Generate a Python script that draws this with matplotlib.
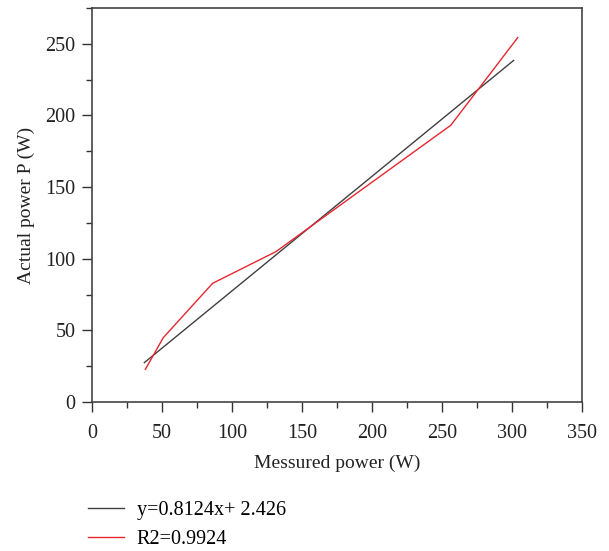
import matplotlib.pyplot as plt
from matplotlib.ticker import MultipleLocator

plt.rcParams['font.family'] = ['Liberation Serif', 'DejaVu Serif']

measured = [38.1, 50.9, 86.2, 131.4, 256.2, 304.0]
actual = [22.8, 44.9, 82.9, 105.0, 193.2, 254.4]

# fitted line end points
fit_x = [37.4, 301.0]
fit_y = [27.5, 238.4]

fit_label = "y=0.8124x+ 2.426"
r2_label = "R2=0.9924"

fig = plt.figure(figsize=(6.09, 5.51), dpi=100)
ax = fig.add_axes([0.151, 0.2704, 0.805, 0.715])

ax.plot(fit_x, fit_y, color='#404040', lw=1.0, label=fit_label)
ax.plot(measured, actual, color='#e8272f', lw=1.0, label=r2_label)

ax.set_xlim(0, 350)
ax.set_ylim(0, 275)
ax.xaxis.set_major_locator(MultipleLocator(50))
ax.xaxis.set_minor_locator(MultipleLocator(25))
ax.yaxis.set_major_locator(MultipleLocator(50))
ax.yaxis.set_minor_locator(MultipleLocator(25))
ax.tick_params(which='both', direction='out', colors='#333333', labelcolor='#222222',
               labelsize=14.5, width=1.0)
ax.tick_params(which='major', length=7)
ax.tick_params(which='minor', length=4.5)
ax.tick_params(axis='x', which='major', pad=9)
ax.tick_params(axis='y', which='major', pad=5)
for s in ax.spines.values():
    s.set_color('#444444')
    s.set_linewidth(1.2)

ax.set_xlabel("Messured power (W)", fontsize=14, color='#222222', labelpad=8)
ax.set_ylabel("Actual power P (W)", fontsize=14, color='#222222', labelpad=7)

fig.legend(loc='upper left', bbox_to_anchor=(0.132, 0.106), frameon=False,
           fontsize=14.5, handlelength=1.75, handletextpad=0.65, labelspacing=0.5,
           borderaxespad=0)

fig.savefig("out.png", dpi=100)
